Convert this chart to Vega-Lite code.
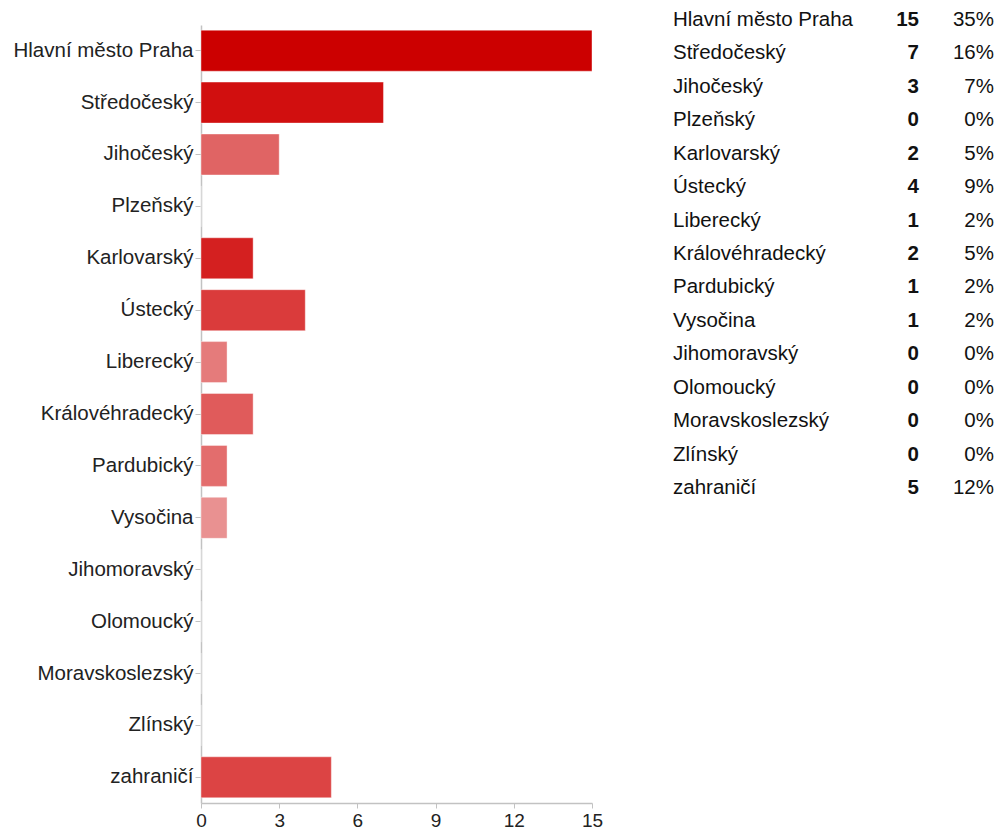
{
  "$schema": "https://vega.github.io/schema/vega-lite/v6.json",
  "padding": {"top": 3, "left": 12, "right": 3, "bottom": 0},
  "background": "white",
  "config": {
    "view": {"stroke": null},
    "font": "Liberation Sans",
    "concat": {"spacing": 70}
  },
  "data": {
    "values": [
      {"region": "Hlavní město Praha", "count": 15, "pct": "35%"},
      {"region": "Středočeský", "count": 7, "pct": "16%"},
      {"region": "Jihočeský", "count": 3, "pct": "7%"},
      {"region": "Plzeňský", "count": 0, "pct": "0%"},
      {"region": "Karlovarský", "count": 2, "pct": "5%"},
      {"region": "Ústecký", "count": 4, "pct": "9%"},
      {"region": "Liberecký", "count": 1, "pct": "2%"},
      {"region": "Královéhradecký", "count": 2, "pct": "5%"},
      {"region": "Pardubický", "count": 1, "pct": "2%"},
      {"region": "Vysočina", "count": 1, "pct": "2%"},
      {"region": "Jihomoravský", "count": 0, "pct": "0%"},
      {"region": "Olomoucký", "count": 0, "pct": "0%"},
      {"region": "Moravskoslezský", "count": 0, "pct": "0%"},
      {"region": "Zlínský", "count": 0, "pct": "0%"},
      {"region": "zahraničí", "count": 5, "pct": "12%"}
    ]
  },
  "hconcat": [
    {
      "width": 391,
      "height": 800,
      "mark": {"type": "bar", "stroke": "#ffffff", "strokeOpacity": 0.4, "strokeWidth": 1},
      "encoding": {
        "y": {
          "field": "region",
          "type": "nominal",
          "sort": null,
          "scale": {"range": [22, 800], "paddingInner": 0.21, "paddingOuter": 0.1},
          "axis": {
            "title": null,
            "domainColor": "#c2c2c2",
            "domainWidth": 1.5,
            "tickColor": "#c2c2c2",
            "tickSize": 6,
            "labelFontSize": 20.5,
            "labelColor": "#222222",
            "labelPadding": 2,
            "labelLimit": 300
          }
        },
        "x": {
          "field": "count",
          "type": "quantitative",
          "scale": {"domain": [0, 15], "nice": false},
          "axis": {
            "title": null,
            "values": [0, 3, 6, 9, 12, 15],
            "grid": false,
            "domainColor": "#c2c2c2",
            "domainWidth": 1.5,
            "tickColor": "#c2c2c2",
            "tickSize": 5,
            "labelFontSize": 19,
            "labelColor": "#222222",
            "labelPadding": 3,
            "labelFlush": false
          }
        },
        "color": {
          "field": "region",
          "type": "nominal",
          "legend": null,
          "scale": {
            "domain": ["Hlavní město Praha", "Středočeský", "Jihočeský", "Plzeňský", "Karlovarský", "Ústecký", "Liberecký", "Královéhradecký", "Pardubický", "Vysočina", "Jihomoravský", "Olomoucký", "Moravskoslezský", "Zlínský", "zahraničí"],
            "range": ["#cc0000", "#d10f0f", "#e06464", "#e06464", "#d42020", "#da3b3b", "#e57b7b", "#e05b5b", "#e36d6d", "#e99191", "#e06464", "#e06464", "#e06464", "#e06464", "#dc4444"]
          }
        }
      }
    },
    {
      "width": 322,
      "height": 502,
      "encoding": {
        "y": {
          "field": "region",
          "type": "nominal",
          "sort": null,
          "scale": {"type": "point", "padding": 0.5},
          "axis": null
        },
        "x": {
          "scale": {"domain": [0, 322], "range": [0, 322]},
          "axis": null
        }
      },
      "layer": [
        {
          "mark": {"type": "text", "align": "left", "baseline": "middle", "fontSize": 20.5, "color": "#111111"},
          "encoding": {"x": {"datum": 0}, "text": {"field": "region"}}
        },
        {
          "mark": {"type": "text", "align": "right", "baseline": "middle", "fontSize": 20.5, "fontWeight": "bold", "color": "#111111"},
          "encoding": {"x": {"datum": 246}, "text": {"field": "count"}}
        },
        {
          "mark": {"type": "text", "align": "right", "baseline": "middle", "fontSize": 20.5, "color": "#111111"},
          "encoding": {"x": {"datum": 321}, "text": {"field": "pct"}}
        }
      ]
    }
  ]
}
